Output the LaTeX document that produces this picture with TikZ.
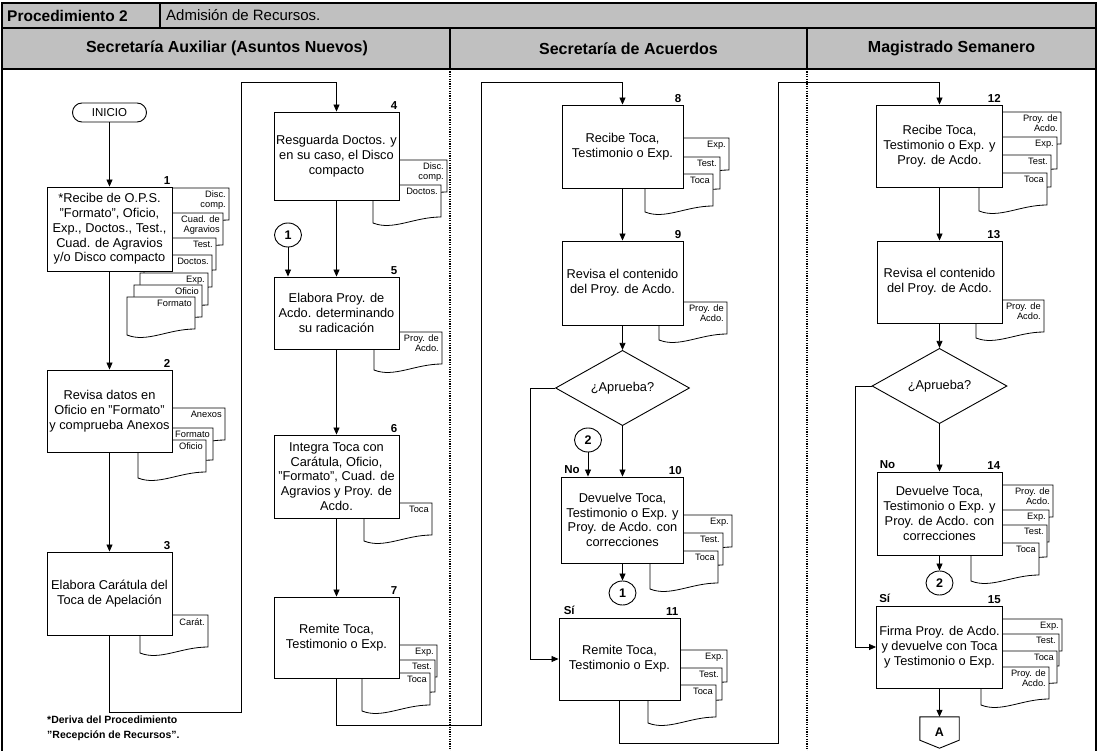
\documentclass[tikz,border=0pt]{standalone}
\usepackage{fontspec}
\setmainfont{Liberation Sans}
\usetikzlibrary{arrows.meta,shapes.geometric}
\definecolor{hdr}{RGB}{192,192,192}
\tikzset{
 proc/.style={draw, fill=white, line width=0.9pt, align=center, inner sep=1pt, font=\fontsize{12.8}{14.8}\selectfont},
 docline/.style={draw, fill=white, line width=0.8pt},
 doclabel/.style={inner sep=0pt, align=right, font=\fontsize{9.3}{10}\selectfont},
 num/.style={font=\bfseries\fontsize{11.5}{12}\selectfont, inner sep=0pt},
 arr/.style={line width=0.8pt, -{Triangle[length=7pt,width=6pt]}},
 conn/.style={ellipse, draw, fill=white, line width=0.9pt, minimum width=27pt, minimum height=24pt, inner sep=0pt, font=\bfseries\fontsize{12.5}{12}\selectfont},
 dec/.style={diamond, draw, fill=white, line width=0.9pt, inner sep=0pt, font=\fontsize{12.8}{14}\selectfont},
 hline/.style={line width=1.4pt},
 lane/.style={font=\bfseries\fontsize{16}{17}\selectfont, inner sep=0pt},
 divider/.style={line width=1.2pt, dash pattern=on 1.2pt off 1.2pt},
}
\newcommand{\docu}[3]{%
 \begin{scope}[shift={(#1,#2)}]
 \draw[docline] (-68,0) -- (0,0) -- (0,32) .. controls (-27,32) and (-48,46) .. (-68,38) -- cycle;
 \node[doclabel, anchor=north east] at (-3,3) {#3};
 \end{scope}}
\begin{document}
\begin{tikzpicture}[x=1pt,y=-1pt]
\useasboundingbox (0,0) rectangle (1098,751);
% header
\fill[hdr] (2,3) rectangle (1096,69);
\draw[hline] (2,3) rectangle (1096,69);
\draw[hline] (2,28) -- (1096,28);
\draw[hline] (160,3) -- (160,28);
\draw[hline] (450,28) -- (450,69);
\draw[hline] (807,28) -- (807,69);
\draw[hline] (2,69) -- (2,751);
\draw[hline] (1096,69) -- (1096,751);
\node[anchor=west, inner sep=0pt, font=\bfseries\fontsize{15.5}{16}\selectfont] (proc) at (7,15.5) {Procedimiento 2};
\node[anchor=west, inner sep=0pt, font=\fontsize{15}{16}\selectfont] (tit) at (166,15.5) {Admisión de Recursos.};
\node[lane] (l1) at (227,48.5) {Secretaría Auxiliar (Asuntos Nuevos)};
\node[lane] (l2) at (628.5,48.5) {Secretaría de Acuerdos};
\node[lane] (l3) at (951.5,48.5) {Magistrado Semanero};
\draw[divider] (450,69) -- (450,751);
\draw[divider] (807,69) -- (807,751);
% footnote
\node[anchor=north west, align=left, inner sep=0pt, font=\bfseries\fontsize{10.5}{15}\selectfont] (foot) at (47,716) {*Deriva del Procedimiento\\"Recepción de Recursos".};

% ---- lane 1, column A
\node[draw, line width=0.9pt, rounded corners=9.5pt, minimum width=74pt, minimum height=19pt, inner sep=0pt, font=\fontsize{11.5}{12}\selectfont] (ini) at (109.5,112.5) {INICIO};

\docu{229}{188}{Disc.\\comp.}
\docu{223}{213}{Cuad. de\\Agravios}
\docu{216}{238}{Test.}
\docu{212}{255}{Doctos.}
\docu{208}{273}{Exp.}
\docu{202}{285}{Oficio}
\docu{195}{297}{Formato}
\node[proc, minimum width=125pt, minimum height=84pt] (b1) at (109.5,229) {*Recibe de O.P.S.\\"Formato", Oficio,\\Exp., Doctos., Test.,\\Cuad. de Agravios\\y/o Disco compacto};
\node[num, anchor=south east] (n1) at ([xshift=-2pt,yshift=2pt]b1.north east) {1};

\docu{225}{408}{Anexos}
\docu{213}{428}{Formato}
\docu{206}{440}{Oficio}
\node[proc, minimum width=125pt, minimum height=82pt] (b2) at (109.5,411) {Revisa datos en\\Oficio en "Formato"\\y comprueba Anexos};
\node[num, anchor=south east] (n2) at ([xshift=-2pt,yshift=2pt]b2.north east) {2};

\docu{208}{615}{Carát.}
\node[proc, minimum width=125pt, minimum height=83pt] (b3) at (109.5,593.5) {Elabora Carátula del\\Toca de Apelación};
\node[num, anchor=south east] (n3) at ([xshift=-2pt,yshift=2pt]b3.north east) {3};

% ---- lane 1, column B
\docu{447}{160}{Disc.\\comp.}
\docu{441}{185}{Doctos.}
\node[proc, minimum width=125pt, minimum height=88pt] (b4) at (336.5,156) {Resguarda Doctos. y\\en su caso, el Disco\\compacto};
\node[num, anchor=south east] (n4) at ([xshift=-2pt,yshift=2pt]b4.north east) {4};

\node[conn] (k1) at (288,235) {1};

\docu{442}{332}{Proy. de\\Acdo.}
\node[proc, minimum width=125pt, minimum height=72pt] (b5) at (336.5,313) {Elabora Proy. de\\Acdo. determinando\\su radicación};
\node[num, anchor=south east] (n5) at ([xshift=-2pt,yshift=2pt]b5.north east) {5};

\docu{432}{503}{Toca}
\node[proc, minimum width=125pt, minimum height=83pt] (b6) at (336.5,476.5) {Integra Toca con\\Carátula, Oficio,\\"Formato", Cuad. de\\Agravios y Proy. de\\Acdo.};
\node[num, anchor=south east] (n6) at ([xshift=-2pt,yshift=2pt]b6.north east) {6};

\docu{437}{645}{Exp.}
\docu{435}{660}{Test.}
\docu{430}{673}{Toca}
\node[proc, minimum width=125pt, minimum height=81pt] (b7) at (336.5,637.5) {Remite Toca,\\Testimonio o Exp.};
\node[num, anchor=south east] (n7) at ([xshift=-2pt,yshift=2pt]b7.north east) {7};

% ---- lane 2
\docu{729}{138}{Exp.}
\docu{720}{157}{Test.}
\docu{713}{174}{Toca}
\node[proc, minimum width=121pt, minimum height=83pt] (b8) at (622.5,146.5) {Recibe Toca,\\Testimonio o Exp.};
\node[num, anchor=south east] (n8) at ([xshift=-2pt,yshift=2pt]b8.north east) {8};

\docu{727}{302}{Proy. de\\Acdo.}
\node[proc, minimum width=121pt, minimum height=84pt] (b9) at (622.5,283) {Revisa el contenido\\del Proy. de Acdo.};
\node[num, anchor=south east] (n9) at ([xshift=-2pt,yshift=2pt]b9.north east) {9};

\node[dec, minimum width=134pt, minimum height=75pt] (d1) at (622.5,388) {¿Aprueba?};

\node[conn] (k2) at (588,440) {2};

\docu{732}{515}{Exp.}
\docu{723}{533}{Test.}
\docu{718}{551}{Toca}
\node[proc, minimum width=122pt, minimum height=86pt] (b10) at (622.5,520) {Devuelve Toca,\\Testimonio o Exp. y\\Proy. de Acdo. con\\correcciones};
\node[num, anchor=south east] (n10) at ([xshift=-2pt,yshift=2pt]b10.north east) {10};
\node[num, anchor=south west] (no1) at ([xshift=3pt,yshift=3pt]b10.north west) {No};

\node[conn] (k1b) at (622.5,593) {1};

\docu{727}{650}{Exp.}
\docu{722}{668}{Test.}
\docu{716}{685}{Toca}
\node[proc, minimum width=121pt, minimum height=82pt] (b11) at (619.5,659) {Remite Toca,\\Testimonio o Exp.};
\node[num, anchor=south east] (n11) at ([xshift=-2pt,yshift=2pt]b11.north east) {11};
\node[num, anchor=south west] (si1) at ([xshift=5pt,yshift=3pt]b11.north west) {Sí};

% ---- lane 3
\docu{1061}{112}{Proy. de\\Acdo.}
\docu{1057}{137}{Exp.}
\docu{1051}{155}{Test.}
\docu{1047}{173}{Toca}
\node[proc, minimum width=126pt, minimum height=82pt] (b12) at (939.5,146) {Recibe Toca,\\Testimonio o Exp. y\\Proy. de Acdo.};
\node[num, anchor=south east] (n12) at ([xshift=-2pt,yshift=2pt]b12.north east) {12};

\docu{1044}{300}{Proy. de\\Acdo.}
\node[proc, minimum width=125pt, minimum height=82pt] (b13) at (939.5,282) {Revisa el contenido\\del Proy. de Acdo.};
\node[num, anchor=south east] (n13) at ([xshift=-2pt,yshift=2pt]b13.north east) {13};

\node[dec, minimum width=135pt, minimum height=75pt] (d2) at (939.5,386) {¿Aprueba?};

\docu{1053}{485}{Proy. de\\Acdo.}
\docu{1049}{510}{Exp.}
\docu{1047}{525}{Test.}
\docu{1039}{543}{Toca}
\node[proc, minimum width=125pt, minimum height=83pt] (b14) at (939.5,513.5) {Devuelve Toca,\\Testimonio o Exp. y\\Proy. de Acdo. con\\correcciones};
\node[num, anchor=south east] (n14) at ([xshift=-2pt,yshift=2pt]b14.north east) {14};
\node[num, anchor=south west] (no2) at ([xshift=3pt,yshift=3pt]b14.north west) {No};

\node[conn] (k2b) at (939.5,583) {2};

\docu{1062}{619}{Exp.}
\docu{1059}{634}{Test.}
\docu{1057}{651}{Toca}
\docu{1049}{667}{Proy. de\\Acdo.}
\node[proc, minimum width=126pt, minimum height=82pt] (b15) at (939.5,647) {Firma Proy. de Acdo.\\y devuelve con Toca\\y Testimonio o Exp.};
\node[num, anchor=south east] (n15) at ([xshift=-2pt,yshift=2pt]b15.north east) {15};
\node[num, anchor=south west] (si2) at ([xshift=3pt,yshift=3pt]b15.north west) {Sí};

\node[inner sep=0pt, minimum width=39pt, minimum height=31pt, font=\bfseries\fontsize{12.5}{12}\selectfont] (A) at (939.5,732.5) {A};
\draw[line width=0.9pt] (A.north west) -- (A.north east) -- ([yshift=8pt]A.south east) -- (A.south) -- ([yshift=8pt]A.south west) -- cycle;

% ---- waypoints
\coordinate (c1a) at (241,712);
\coordinate (c1b) at (241,82);
\coordinate (c2a) at (481,725);
\coordinate (c2b) at (481,82);
\coordinate (c3a) at (778,743);
\coordinate (c3b) at (778,82);
\coordinate (c4) at (530,659);
\coordinate (c5) at (855,647);

% ---- connectors
\draw[arr] (ini.south) -- (b1.north);
\draw[arr] (b1.south) -- (b2.north);
\draw[arr] (b2.south) -- (b3.north);
\draw[arr] (b3.south) |- (c1a) -- (c1b) -| (b4.north);
\draw[arr] (b4.south) -- (b5.north);
\draw[arr] (k1.south) -- (k1.south |- b5.north);
\draw[arr] (b5.south) -- (b6.north);
\draw[arr] (b6.south) -- (b7.north);
\draw[arr] (b7.south) |- (c2a) -- (c2b) -| (b8.north);
\draw[arr] (b8.south) -- (b9.north);
\draw[arr] (b9.south) -- (d1.north);
\draw[arr] (d1.south) -- (d1.south |- b10.north);
\draw[arr] (k2.south) -- (k2.south |- b10.north);
\draw[arr] (d1.west) -| (c4) -- (b11.west);
\draw[arr] (b10.south) -- (k1b.north);
\draw[arr] (b11.south) |- (c3a) -- (c3b) -| (b12.north);
\draw[arr] (b12.south) -- (b13.north);
\draw[arr] (b13.south) -- (d2.north);
\draw[arr] (d2.south) -- (b14.north);
\draw[arr] (d2.west) -| (c5) -- (b15.west);
\draw[arr] (b14.south) -- (k2b.north);
\draw[arr] (b15.south) -- (A.north);
\end{tikzpicture}
\end{document}
